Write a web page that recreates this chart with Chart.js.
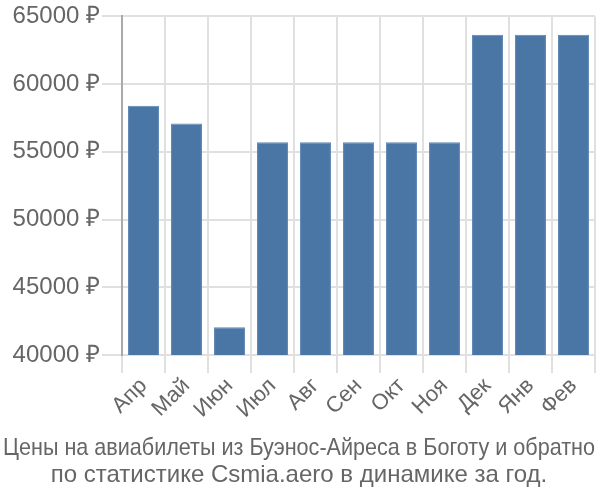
<!DOCTYPE html>
<html>
<head>
<meta charset="utf-8">
<script src="https://cdn.jsdelivr.net/npm/chart.js@4"></script>
<style>
html,body{margin:0;padding:0;background:#fff;}
#wrap{width:600px;height:500px;position:relative;}
</style>
</head>
<body>
<div id="wrap"><canvas id="c"></canvas></div>
<script>
const categories = ["Апр","Май","Июн","Июл","Авг","Сен","Окт","Ноя","Дек","Янв","Фев"];
const prices = [58400, 57100, 42050, 55700, 55700, 55700, 55700, 55700, 63650, 63650, 63650];
const yTicks = [40000, 45000, 50000, 55000, 60000, 65000];
const titleLines = ["Цены на авиабилеты из Буэнос-Айреса в Боготу и обратно", "по статистике Csmia.aero в динамике за год."];

const font = "'Liberation Sans', Arial, sans-serif";
new Chart(document.getElementById('c'), {
  type: 'bar',
  data: {
    labels: categories,
    datasets: [{
      data: prices,
      backgroundColor: '#4a76a6',
      borderColor: '#5f87b3',
      borderWidth: 1
    }]
  },
  options: {
    responsive: true,
    maintainAspectRatio: false,
    animation: false,
    layout: { padding: { top: 4, right: 5, left: 3, bottom: 7 } },
    plugins: {
      legend: { display: false },
      tooltip: { enabled: false },
      title: {
        display: true,
        position: 'bottom',
        text: titleLines,
        color: '#666',
        font: { family: font, size: 24, weight: 'normal', lineHeight: 1.12 },
        padding: { top: 12, bottom: 4 }
      }
    },
    scales: {
      x: {
        grid: { color: '#e0e0e0', lineWidth: 2, tickLength: 18, offset: true },
        border: { color: '#e0e0e0', width: 2 },
        ticks: { color: '#666', font: { family: font, size: 22 }, maxRotation: 45, minRotation: 45, padding: 0 }
      },
      y: {
        min: 40000, max: 65000,
        afterBuildTicks: (s) => { s.ticks = yTicks.map(v => ({ value: v })); },
        afterFit: (s) => { s.width = 119; },
        grid: { color: '#e0e0e0', lineWidth: 2, tickLength: 20 },
        border: { color: '#aaa', width: 2 },
        ticks: { color: '#666', font: { family: font, size: 24 }, padding: 2, callback: v => v + ' ₽' }
      }
    }
  }
});
</script>
</body>
</html>
